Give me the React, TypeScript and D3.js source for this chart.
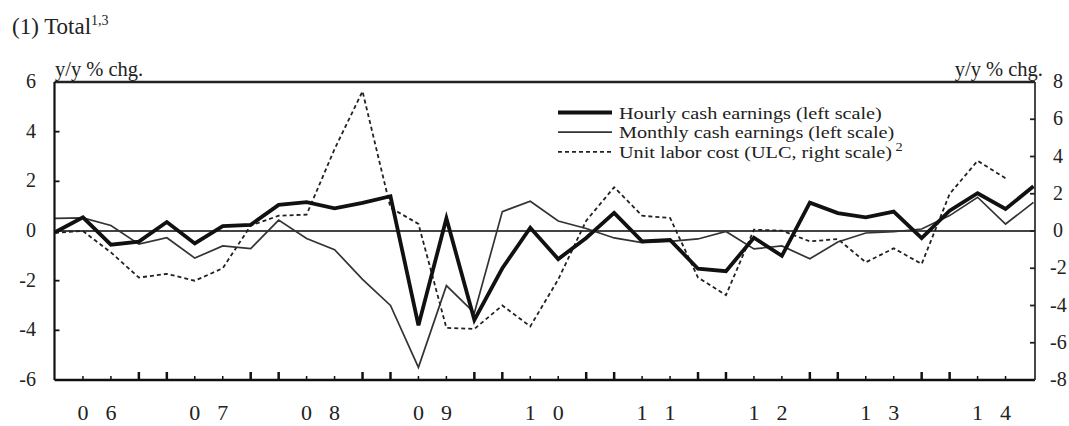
import React from 'react';
import * as d3 from 'd3';

const W = 1069;
const H = 426;

const yearLabels = ['06', '07', '08', '09', '10', '11', '12', '13', '14'];

// Quarterly, 2006Q1 .. 2014Q4 (36 points)
const hourly = [
  -0.05, 0.55, -0.55, -0.43, 0.36, -0.5, 0.2, 0.25, 1.05, 1.16, 0.91, 1.13,
  1.4, -3.8, 0.51, -3.58, -1.5, 0.13, -1.13, -0.28, 0.73, -0.42, -0.36, -1.52,
  -1.62, -0.27, -1.0, 1.14, 0.72, 0.55, 0.78, -0.29, 0.82, 1.52, 0.89, 1.8,
];
const monthly = [
  0.51, 0.53, 0.22, -0.53, -0.27, -1.09, -0.6, -0.71, 0.44, -0.3, -0.75, -1.95,
  -3.0, -5.49, -2.2, -3.3, 0.78, 1.2, 0.4, 0.1, -0.28, -0.47, -0.42, -0.32,
  -0.02, -0.72, -0.6, -1.12, -0.44, -0.08, -0.03, 0.08, 0.62, 1.36, 0.28, 1.15,
];
const ulc: (number | null)[] = [
  -0.1, 0.0, -1.15, -2.5, -2.3, -2.67, -2.0, 0.29, 0.82, 0.88, 4.4, 7.5,
  1.25, 0.38, -5.2, -5.26, -4.0, -5.12, -2.6, 0.55, 2.35, 0.82, 0.7, -2.5,
  -3.44, 0.07, 0.02, -0.56, -0.43, -1.68, -0.93, -1.77, 1.99, 3.77, 2.83, null,
];

const leftTicks = [-6, -4, -2, 0, 2, 4, 6];
const rightTicks = [-8, -6, -4, -2, 0, 2, 4, 6, 8];

const legendLabels = [
  'Hourly cash earnings (left scale)',
  'Monthly cash earnings (left scale)',
  'Unit labor cost (ULC, right scale)',
];

const FONT = "'Liberation Serif', 'Times New Roman', serif";

export default function App() {
  const left = 54.5;
  const right = 1035;
  const top = 82;
  const bottom = 380;
  const x = d3.scaleLinear().domain([0, 35]).range([55, 1033.5]);
  const yL = d3.scaleLinear().domain([-6, 6]).range([bottom, top]);
  const yR = d3.scaleLinear().domain([-8, 8]).range([bottom, top]);

  const lineL = d3
    .line<number>()
    .x((_, i) => x(i))
    .y((d) => yL(d));
  const lineR = d3
    .line<number | null>()
    .defined((d) => d != null)
    .x((_, i) => x(i))
    .y((d) => yR(d as number));

  const qIdx = d3.range(1, 35);

  const legendStyles = [
    { stroke: '#111', width: 4, dash: undefined as string | undefined },
    { stroke: '#333', width: 1.8, dash: undefined as string | undefined },
    { stroke: '#222', width: 1.8, dash: '4,3' },
  ];

  return (
    <svg
      width={W}
      height={H}
      style={{ position: 'absolute', left: 0, top: 0, background: '#fff' }}
      fontFamily={FONT}
    >
      <rect width={W} height={H} fill="#fff" />
      {/* Title */}
      <text x={12} y={34} fontSize={23} fill="#222">
        (1) Total
        <tspan dy={-9} fontSize={14}>1,3</tspan>
      </text>

      {/* axis unit labels */}
      <text x={55} y={76} fontSize={20.5} fill="#222">y/y % chg.</text>
      <text x={1043} y={76} fontSize={20.5} fill="#222" textAnchor="end">y/y % chg.</text>

      {/* zero line */}
      <line x1={left} x2={right} y1={yL(0)} y2={yL(0)} stroke="#444" strokeWidth={1.8} />

      {/* series */}
      <path d={lineR(ulc) || ''} fill="none" stroke="#222" strokeWidth={1.8} strokeDasharray="4,3" />
      <path d={lineL(monthly) || ''} fill="none" stroke="#333" strokeWidth={1.7} />
      <path d={lineL(hourly) || ''} fill="none" stroke="#111" strokeWidth={3.8} strokeLinejoin="miter" />

      {/* frame */}
      <line x1={left} x2={right} y1={top} y2={top} stroke="#222" strokeWidth={2.5} />
      <line x1={left} x2={right} y1={bottom} y2={bottom} stroke="#111" strokeWidth={2.5} />
      <line x1={left} x2={left} y1={top} y2={bottom} stroke="#111" strokeWidth={2.2} />
      <line x1={right} x2={right} y1={top} y2={bottom} stroke="#333" strokeWidth={1.8} />

      {/* left ticks */}
      {leftTicks.map((t) => (
        <g key={'l' + t}>
          {t > -6 && t < 6 && (
            <line x1={left} x2={left + 5} y1={yL(t)} y2={yL(t)} stroke="#111" strokeWidth={1.8} />
          )}
          <text x={36} y={yL(t) + 6} fontSize={20} textAnchor="end" fill="#222">
            {t}
          </text>
        </g>
      ))}

      {/* right ticks */}
      {rightTicks.map((t) => (
        <g key={'r' + t}>
          {t > -8 && t < 8 && (
            <line x1={right - 5} x2={right} y1={yR(t)} y2={yR(t)} stroke="#222" strokeWidth={1.8} />
          )}
          <text x={t < 0 ? 1050 : 1053} y={yR(t) + 6} fontSize={20} fill="#222">
            {t}
          </text>
        </g>
      ))}

      {/* quarter ticks */}
      {qIdx.map((i) => {
        const tall = i % 4 === 3 || i % 4 === 0;
        return (
          <line
            key={'q' + i}
            x1={x(i)}
            x2={x(i)}
            y1={bottom}
            y2={bottom - (tall ? 8 : 4)}
            stroke="#111"
            strokeWidth={tall ? 2.5 : 1.5}
          />
        );
      })}

      {/* year labels: digits placed on Q2 and Q3 */}
      {yearLabels.map((yl, k) => (
        <g key={'y' + yl}>
          <text x={x(4 * k + 1)} y={420} fontSize={22} textAnchor="middle" fill="#222">
            {yl[0]}
          </text>
          <text x={x(4 * k + 2)} y={420} fontSize={22} textAnchor="middle" fill="#222">
            {yl[1]}
          </text>
        </g>
      ))}

      {/* legend */}
      {legendLabels.map((lab, j) => {
        const cy = 112.5 + j * 19.7;
        const s = legendStyles[j];
        return (
          <g key={'lg' + j}>
            <line x1={558} x2={612} y1={cy} y2={cy} stroke={s.stroke} strokeWidth={s.width} strokeDasharray={s.dash} />
            <text
              transform={`translate(619,${cy + 6}) scale(1.15,1)`}
              fontSize={17.6}
              fill="#222"
            >
              {lab}
              {j === 2 && <tspan dy={-7} fontSize={12.5}> 2</tspan>}
            </text>
          </g>
        );
      })}
    </svg>
  );
}
